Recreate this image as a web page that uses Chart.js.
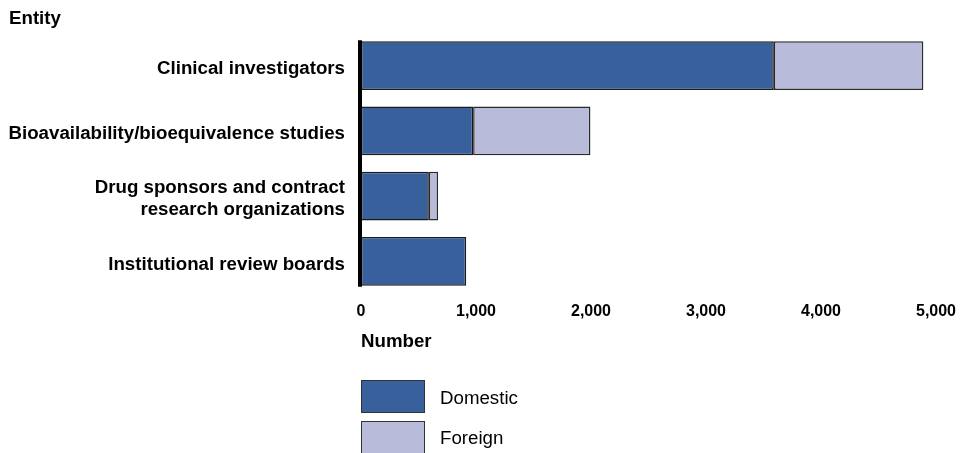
<!DOCTYPE html>
<html>
<head>
<meta charset="utf-8">
<script src="https://cdn.jsdelivr.net/npm/chart.js@4"></script>
<style>
  body { margin: 0; background: #fff; font-family: "Liberation Sans", Arial, sans-serif; }
  #wrap { position: relative; width: 972px; height: 453px; }
  #entity { position: absolute; left: 9px; top: 8px; font-weight: bold; font-size: 18.7px; line-height: 20px; color: #000; }
  .leg { position: absolute; left: 361px; }
  .leg .box { position: absolute; left: 0; top: 0; width: 62px; border: 1px solid #333; }
  .leg .txt { position: absolute; left: 79px; font-size: 18.7px; line-height: 20px; color: #000; white-space: nowrap; }
</style>
</head>
<body>
<div id="wrap">
  <canvas id="barChart" width="972" height="453"></canvas>
  <div id="entity">Entity</div>
  <div id="legend"></div>
</div>
<script>
var categories = [
    'Clinical investigators',
    'Bioavailability/bioequivalence studies',
    ['Drug sponsors and contract', 'research organizations'],
    'Institutional review boards'
];
var domestic = [3590, 975, 590, 915];
var foreign = [1300, 1020, 80, 0];
var xTicks = [0, 1000, 2000, 3000, 4000, 5000];

var colors = { domestic: '#37609C', foreign: '#B8BBDA' };

// thick black axis line that runs from the first bar to the last one
var axisLine = {
    id: 'axisLine',
    afterDatasetsDraw: function (chart) {
        var bars = chart.getDatasetMeta(0).data;
        var first = bars[0], last = bars[bars.length - 1];
        var x = chart.chartArea.left;
        var c = chart.ctx;
        c.save();
        c.strokeStyle = '#000';
        c.lineWidth = 4;
        c.beginPath();
        c.moveTo(x - 1, first.y - first.height / 2 - 1);
        c.lineTo(x - 1, last.y + last.height / 2 + 1);
        c.stroke();
        c.restore();
    }
};

document.addEventListener('DOMContentLoaded', function () {
    var ctx = document.getElementById('barChart').getContext('2d');
    Chart.defaults.font.family = '"Liberation Sans", Arial, sans-serif';
    Chart.defaults.color = '#000';

    var chart = new Chart(ctx, {
        type: 'bar',
        data: {
            labels: categories,
            datasets: [{
                label: 'Domestic',
                data: domestic,
                backgroundColor: colors.domestic,
                borderColor: '#1a1a1a',
                borderWidth: 1.5,
                borderSkipped: false,
                barPercentage: 0.83,
                categoryPercentage: 0.9
            }, {
                label: 'Foreign',
                data: foreign,
                backgroundColor: colors.foreign,
                borderColor: '#2a2a2a',
                borderWidth: 1.5,
                borderSkipped: false,
                barPercentage: 0.83,
                categoryPercentage: 0.9
            }]
        },
        options: {
            indexAxis: 'y',
            responsive: false,
            animation: false,
            layout: { padding: { top: 33, right: 36, bottom: 100, left: 0 } },
            plugins: {
                legend: { display: false },
                tooltip: { enabled: false }
            },
            scales: {
                x: {
                    stacked: true,
                    min: 0,
                    max: 5000,
                    afterBuildTicks: function (scale) {
                        scale.ticks = xTicks.map(function (v) { return { value: v }; });
                    },
                    afterFit: function (scale) { scale.height = 59; },
                    grid: { display: false, drawTicks: false },
                    border: { display: false },
                    ticks: {
                        padding: 8,
                        font: { size: 16, weight: 'bold' },
                        callback: function (v) { return v.toLocaleString('en-US'); }
                    },
                    title: {
                        display: true,
                        text: 'Number',
                        align: 'start',
                        font: { size: 18.7, weight: 'bold' },
                        padding: { top: 0, bottom: 0 }
                    }
                },
                y: {
                    stacked: true,
                    afterFit: function (scale) { scale.width = 361; },
                    grid: { display: false, drawTicks: false },
                    border: { display: false },
                    ticks: {
                        padding: 16,
                        labelOffset: 3,
                        font: { size: 18.7, weight: 'bold', lineHeight: 1.18 }
                    }
                }
            }
        },
        plugins: [axisLine]
    });

    // legend built from the datasets
    var legend = document.getElementById('legend');
    var tops = [380, 421];
    var textTops = [8, 7];
    chart.data.datasets.forEach(function (ds, i) {
        var item = document.createElement('div');
        item.className = 'leg';
        item.style.top = tops[i] + 'px';
        item.innerHTML = '<div class="box" style="height:31px;background:' + ds.backgroundColor +
            '"></div><div class="txt" style="top:' + textTops[i] + 'px">' + ds.label + '</div>';
        legend.appendChild(item);
    });
});
</script>
</body>
</html>
